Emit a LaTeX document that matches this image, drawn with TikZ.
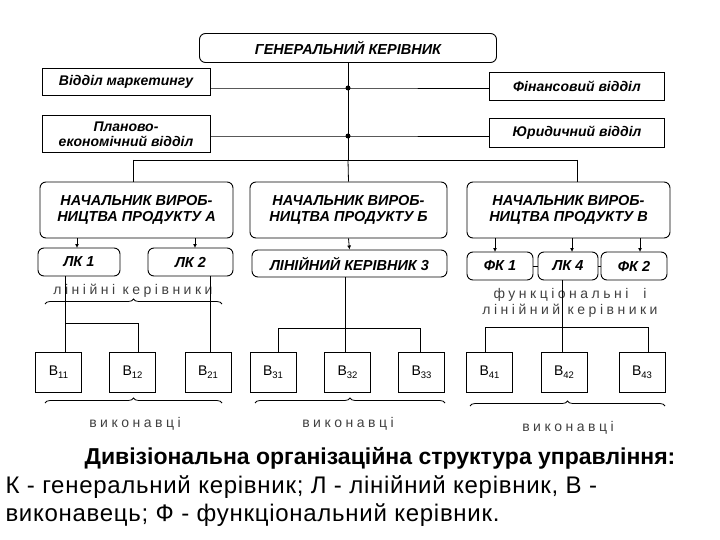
\documentclass[tikz,border=0pt]{standalone}
\usepackage{fontspec}
\setmainfont{Liberation Sans}
\usetikzlibrary{decorations.pathreplacing,arrows.meta}
\begin{document}
\begin{tikzpicture}[x=1pt,y=-1pt,
  rbox/.style={draw,rounded corners=6pt,line width=0.9pt,font=\bfseries\itshape\fontsize{14.5}{16}\selectfont,align=center,inner sep=0pt},
  sbox/.style={draw,line width=0.9pt,font=\bfseries\itshape\fontsize{14}{15}\selectfont,align=center,inner sep=0pt},
  ebox/.style={draw,line width=0.9pt,font=\fontsize{14}{16}\selectfont,inner sep=0pt},
  ln/.style={line width=0.8pt},
  ar/.style={line width=0.8pt,-{Latex[length=4pt,width=4pt]}},
  brc/.style={decorate,decoration={brace,mirror,amplitude=5pt},line width=0.8pt},
  spc/.style={font=\fontsize{14}{16}\selectfont\addfontfeature{LetterSpace=25},text=black!75,align=center}
]
\useasboundingbox (0,0) rectangle (720,540);
\node[rbox,minimum width=297,minimum height=29] (gen) at (348,48) {ГЕНЕРАЛЬНИЙ КЕРІВНИК};
\node[sbox,minimum width=168,minimum height=27] (mkt) at (126,82) {Відділ маркетингу};
\node[sbox,minimum width=175,minimum height=28] (fin) at (577,86) {Фінансовий відділ};
\node[sbox,minimum width=168,minimum height=37] (pl) at (126,134) {Планово-\\економічний відділ};
\node[sbox,minimum width=175,minimum height=29] (jur) at (577,133) {Юридичний відділ};
\coordinate (d1) at (348,88);
\coordinate (d2) at (348,136);
\coordinate (bus) at (348,160);
\draw[ln] (gen.south) -- (bus);
\fill (d1) circle (2.5pt) (d2) circle (2.5pt);
\draw[ln] (mkt.east |- d1) -- (d1) -- (fin.west |- d1);
\draw[ln] (pl.east |- d2) -- (d2) -- (jur.west |- d2);
\node[rbox,minimum width=193,minimum height=56] (pa) at (136.5,210) {НАЧАЛЬНИК ВИРОБ-\\НИЦТВА ПРОДУКТУ А};
\node[rbox,minimum width=197,minimum height=56] (pb) at (348.5,210) {НАЧАЛЬНИК ВИРОБ-\\НИЦТВА ПРОДУКТУ Б};
\node[rbox,minimum width=203,minimum height=56] (pc) at (568.5,210) {НАЧАЛЬНИК ВИРОБ-\\НИЦТВА ПРОДУКТУ В};
\coordinate (ba) at (133,160);
\coordinate (bc) at (577,160);
\draw[ln] (ba) -- (bc);
\draw[ln] (ba) -- (ba |- pa.north);
\draw[ln] (bus) -- (pb.north);
\draw[ln] (bc) -- (bc |- pc.north);
% second level
\node[rbox,minimum width=82,minimum height=28] (lk1) at (79,262) {ЛК 1};
\node[rbox,minimum width=85,minimum height=28] (lk2) at (190.5,262) {ЛК 2};
\node[rbox,minimum width=195,minimum height=27] (lk3) at (349.5,263.5) {ЛІНІЙНИЙ КЕРІВНИК 3};
\node[rbox,minimum width=66,minimum height=28] (fk1) at (500,266) {ФК 1};
\node[rbox,minimum width=60,minimum height=28] (lk4) at (568,266) {ЛК 4};
\node[rbox,minimum width=66,minimum height=28] (fk2) at (634,266) {ФК 2};
\draw[ar] (pa.south -| 77,0) -- (77,248);
\draw[ar] (pa.south -| 195,0) -- (195,248);
\draw[ar] (pb.south) -- (lk3.north);
\draw[ar] (pc.south -| 495,0) -- (495,252);
\draw[ar] (pc.south -| 572,0) -- (572,252);
\draw[ar] (pc.south -| 640,0) -- (640,252);
\draw[ln] (fk1.east) -- (lk4.west);
\draw[ln] (lk4.east) -- (fk2.west);
% labels
\node[spc] (l1) at (133,291) {лінійні керівники};
\draw[brc] (222,304) -- (45,304);
\node[spc] (l2) at (570,303) {функціональні\ \ і\\лінійний керівники};
% executors
\foreach \n/\x/\s in {b11/58.5/11,b12/132.5/12,b21/208/21,b31/273/31,b32/347.5/32,b33/421.5/33,b41/489.5/41,b42/564/42,b43/642/43}{
  \node[ebox,minimum width=46,minimum height=40] (\n) at (\x,372) {В{\raisebox{-2.5pt}{\fontsize{9.5}{10}\selectfont\s}}};
}
\draw[ln] (65,276) -- (65,352);
\draw[ln] (65,323) -- (138,323) -- (138,352);
\draw[ln] (210,276) -- (210,352);
\draw[ln] (345,277) -- (345,352);
\draw[ln] (278,352) -- (278,328) -- (420,328) -- (420,352);
\draw[ln] (562,280) -- (562,352);
\draw[ln] (485,352) -- (485,327) -- (648,327) -- (648,352);
\draw[brc] (222,403) -- (45,403);
\draw[brc] (445,403) -- (255,403);
\draw[brc] (665,406) -- (470,406);
\node[spc] (v1) at (135,424) {виконавці};
\node[spc] (v2) at (348,424) {виконавці};
\node[spc] (v3) at (568,428) {виконавці};
% caption
\node[font=\bfseries\fontsize{23}{26}\selectfont] (cap) at (380,458) {Дивізіональна організаційна структура управління:};
\node[anchor=west,font=\fontsize{24}{26}\selectfont\addfontfeature{LetterSpace=3}] (c2) at (2,487) {К - генеральний керівник; Л - лінійний керівник, В -};
\node[anchor=west,font=\fontsize{24}{26}\selectfont\addfontfeature{LetterSpace=3}] (c3) at (2,515) {виконавець; Ф - функціональний керівник.};
\end{tikzpicture}
\end{document}
